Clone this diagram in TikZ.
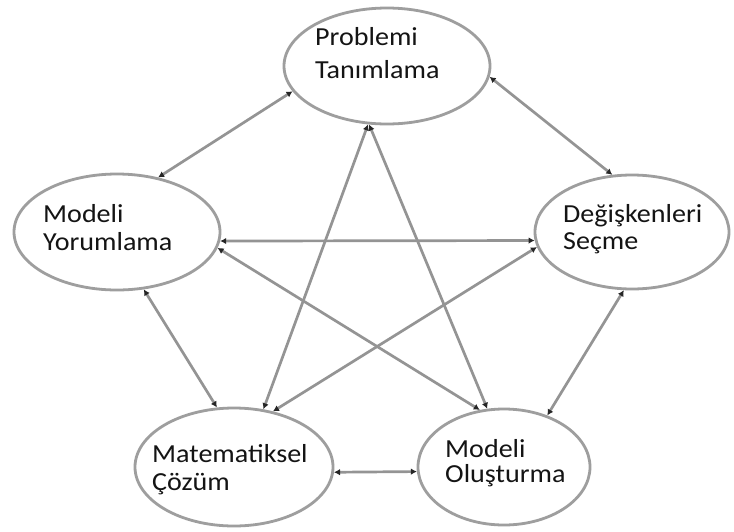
\documentclass[tikz,border=0pt]{standalone}
\usepackage{fontspec}
\setmainfont{Carlito}[FakeStretch=1.08]
\usetikzlibrary{arrows.meta,shapes.geometric}
\begin{document}
\begin{tikzpicture}[x=1pt,y=-1pt,
  stage/.style={draw=black!38, line width=2.8pt, ellipse, inner sep=0pt, fill=white},
  lbl/.style={anchor=base west, inner sep=0pt, font=\fontsize{26}{30}\selectfont, text=black!92},
  link/.style={draw=black!42, line width=2.7pt, {Latex[length=6pt,width=6.5pt,color=black!85]}-{Latex[length=6pt,width=6.5pt,color=black!85]}}]
\useasboundingbox (0,0) rectangle (734,531);
\fill[white] (0,0) rectangle (734,531);

% the five stages of the modelling cycle
\node[stage, minimum width=206pt, minimum height=116pt] (prob) at (387,66) {};
\node[stage, minimum width=206pt, minimum height=116pt] (yor) at (117,232) {};
\node[stage, minimum width=194pt, minimum height=114pt] (sec) at (632,232) {};
\node[stage, minimum width=198pt, minimum height=118pt] (coz) at (234,467) {};
\node[stage, minimum width=172pt, minimum height=116pt] (olu) at (504,467) {};

% stage names
\node[lbl] (prob1) at (315,45) {Problemi};
\node[lbl] (prob2) at (315,78) {Tanımlama};
\node[lbl] (yor1) at (43,222) {Modeli};
\node[lbl] (yor2) at (43,250) {Yorumlama};
\node[lbl] (sec1) at (563,222) {Değişkenleri};
\node[lbl] (sec2) at (563,249) {Seçme};
\node[lbl] (coz1) at (152,462) {Matematiksel};
\node[lbl] (coz2) at (152,490) {Çözüm};
\node[lbl] (olu1) at (445,457) {Modeli};
\node[lbl] (olu2) at (445,482) {Oluşturma};

% every pair of stages is linked both ways
\draw[link] (prob.195) -- (yor.53);
\draw[link] (prob.354) -- (sec.109);
\draw[link] (prob.252) -- (coz.63);
\draw[link] (prob.253) -- (olu.106);
\draw[link] (yor.355) -- (sec.185.6);
\draw[link] (yor.351) -- (olu.113);
\draw[link] (sec.189) -- (coz.55);
\draw[link] (yor.295) -- (coz.106.5);
\draw[link] (sec.262) -- (olu.50);
\draw[link] (coz.357) -- (olu.183);
\end{tikzpicture}
\end{document}
